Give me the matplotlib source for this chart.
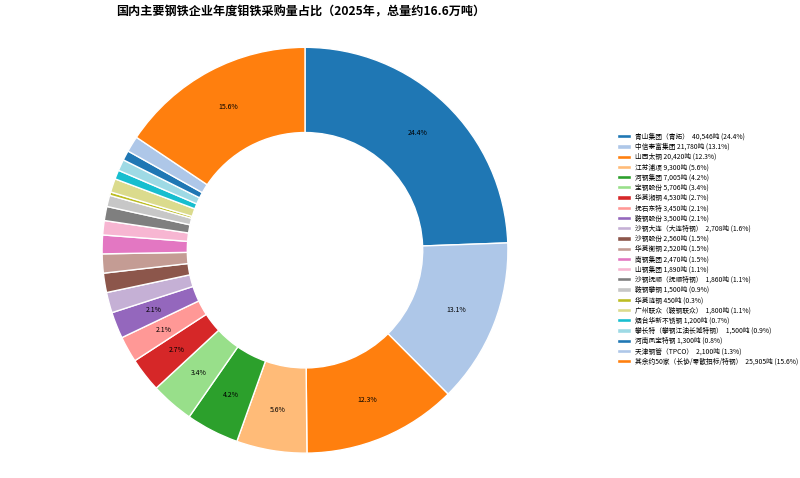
import matplotlib

matplotlib.use("Agg")
import matplotlib.pyplot as plt  # noqa: E402

plt.rcParams["font.family"] = ["Noto Sans CJK SC", "DejaVu Sans"]

TITLE = "国内主要钢铁企业年度钼铁采购量占比（2025年，总量约16.6万吨）"

companies = [
    "青山集团（青拓）",
    "中信泰富集团",
    "山西太钢",
    "江苏浦项",
    "河钢集团",
    "宝钢股份",
    "华菱湘钢",
    "抚石东特",
    "鞍钢股份",
    "沙钢大连（大连特钢）",
    "沙钢股份",
    "华菱衡钢",
    "南钢集团",
    "山钢集团",
    "沙钢抚顺（抚顺特钢）",
    "鞍钢攀钢",
    "华菱涟钢",
    "广州联众（鞍钢联众）",
    "烟台华新不锈钢",
    "攀长特（攀钢江油长城特钢）",
    "河南凤宝特钢",
    "天津钢管（TPCO）",
    "其余约50家（长协/零散招标/特钢）",
]
tonnes = [
    40546, 21780, 20420, 9300, 7005, 5706, 4530, 3450, 3500, 2708, 2560,
    2520, 2470, 1890, 1860, 1500, 450, 1800, 1200, 1500, 1300, 2100, 25905,
]

total = sum(tonnes)
cmap = plt.get_cmap("tab20")
colors = [cmap(i % 20) for i in range(len(tonnes))]

labels = []
for name, v in zip(companies, tonnes):
    gap = "  " if "（" in name else " "
    labels.append(f"{name}{gap}{v:,}吨 ({v / total * 100:.1f}%)")

fig = plt.figure(figsize=(8, 4.78), dpi=100)
ax = fig.add_axes([0.1275, 0.052, 0.5075, 0.849])

wedges, _, autotexts = ax.pie(
    tonnes,
    colors=colors,
    startangle=90,
    counterclock=False,
    autopct=lambda p: f"{p:.1f}%" if p >= 2 else "",
    pctdistance=0.8,
    radius=1.0,
    wedgeprops=dict(width=0.42, edgecolor="white", linewidth=1),
    textprops=dict(fontsize=5),
)
ax.set_xlim(-1.0, 1.0)
ax.set_ylim(-1.0, 1.0)
ax.set_aspect("equal")

fig.text(301 / 800, 1 - 12 / 478, TITLE, ha="center", va="center",
         fontsize=8.7, fontweight="bold")

fig.legend(
    wedges,
    labels,
    loc="center left",
    bbox_to_anchor=(0.764, 0.479),
    fontsize=4.85,
    frameon=False,
    labelspacing=0.33,
    handlelength=2.0,
    handleheight=0.6,
    handletextpad=0.6,
)

fig.savefig("out.png", dpi=100)
